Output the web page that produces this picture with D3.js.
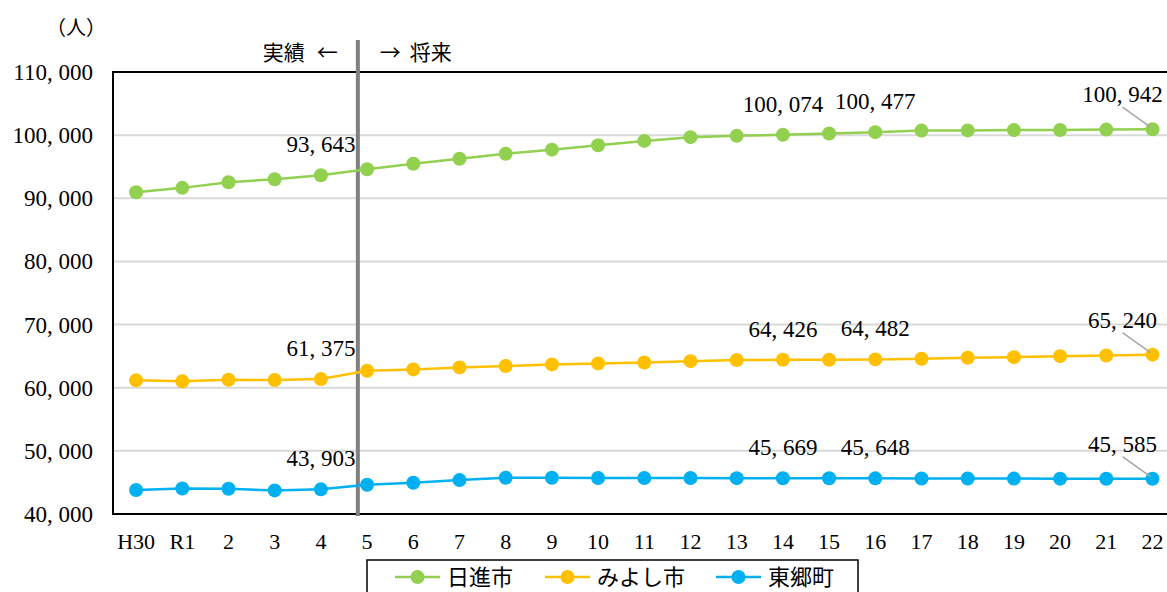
<!DOCTYPE html>
<html>
<head>
<meta charset="utf-8">
<script src="https://cdn.jsdelivr.net/npm/d3@7"></script>
<style>
  body { margin: 0; background: #fff; }
  svg { display: block; }
  .num { font-family: "Liberation Serif", "DejaVu Serif", serif; fill: #000; }
  .jp { font-family: "Noto Sans CJK JP", sans-serif; fill: #000; }
</style>
</head>
<body>
<svg id="chart" width="1167" height="592"></svg>
<script>
// 年度
var categories = ["H30", "R1", "2", "3", "4", "5", "6", "7", "8", "9", "10", "11",
                  "12", "13", "14", "15", "16", "17", "18", "19", "20", "21", "22"];

var nisshin = [90950, 91650, 92540, 93020, 93643, 94600, 95460, 96250, 97050, 97700, 98400, 99090,
               99680, 99890, 100074, 100270, 100477, 100720, 100750, 100800, 100820, 100880, 100942];
var miyoshi = [61170, 61010, 61250, 61220, 61375, 62690, 62900, 63220, 63430, 63690, 63850, 64000,
               64210, 64370, 64426, 64420, 64482, 64580, 64740, 64840, 65000, 65100, 65240];
var togo = [43790, 44050, 43990, 43740, 43903, 44630, 44950, 45370, 45740, 45740, 45700, 45700,
            45690, 45680, 45669, 45660, 45648, 45630, 45620, 45610, 45600, 45590, 45585];

var seriesNames = ["日進市", "みよし市", "東郷町"];
var seriesColors = ["#92D050", "#FFC000", "#00B0F0"];
var labelIdx = [4, 14, 16, 22];
var yTicks = [40000, 50000, 60000, 70000, 80000, 90000, 100000, 110000];

const svg = d3.select("#chart");
const margin = { top: 72, left: 113, bottom: 514 };
const step = 46.2;

const x = d3.scalePoint()
    .domain(categories)
    .range([margin.left, margin.left + categories.length * step])
    .padding(0.5);
const y = d3.scaleLinear()
    .domain([40000, 110000])
    .range([margin.bottom, margin.top]);

const fmt = v => d3.format(",")(v).replace(/,/g, ", ");

// gridlines
svg.append("g").selectAll("line")
    .data(yTicks.slice(1, -1))
    .enter().append("line")
    .attr("x1", margin.left).attr("x2", 1167)
    .attr("y1", d => y(d)).attr("y2", d => y(d))
    .attr("stroke", "#d9d9d9").attr("stroke-width", 2);

// border (top, left, bottom)
svg.append("path")
    .attr("d", `M1167,${y(110000)}H${margin.left}V${y(40000)}H1167`)
    .attr("fill", "none").attr("stroke", "#000").attr("stroke-width", 2);

// y tick labels
svg.append("g").selectAll("text")
    .data(yTicks)
    .enter().append("text")
    .attr("class", "num")
    .attr("x", 93).attr("y", d => y(d))
    .attr("dy", "0.35em")
    .attr("text-anchor", "end")
    .attr("font-size", 23)
    .text(fmt);

// x tick labels
svg.append("g").selectAll("text")
    .data(categories)
    .enter().append("text")
    .attr("class", "num")
    .attr("x", d => x(d)).attr("y", 541)
    .attr("dy", "0.35em")
    .attr("text-anchor", "middle")
    .attr("font-size", 22)
    .text(d => d);

// unit
svg.append("text").attr("class", "jp")
    .attr("x", 76).attr("y", 28).attr("dy", "0.35em")
    .attr("text-anchor", "middle").attr("font-size", 20)
    .text("（人）");

// 実績 / 将来 divider
const divX = x("4") + step * 0.8;
svg.append("line")
    .attr("x1", divX).attr("x2", divX)
    .attr("y1", 40).attr("y2", margin.bottom + 2)
    .attr("stroke", "#808080").attr("stroke-width", 4);
const hdr = [
    { t: "実績", x: divX - 53, a: "end" },
    { t: "←", x: divX - 20, a: "end" },
    { t: "→", x: divX + 22, a: "start" },
    { t: "将来", x: divX + 52, a: "start" }
];
svg.append("g").selectAll("text")
    .data(hdr)
    .enter().append("text")
    .attr("class", "jp")
    .attr("x", d => d.x).attr("y", 53).attr("dy", "0.35em")
    .attr("text-anchor", d => d.a).attr("font-size", 21)
    .text(d => d.t);

const allSeries = [nisshin, miyoshi, togo];
const line = d3.line()
    .x((d, i) => x(categories[i]))
    .y(d => y(d));

allSeries.forEach((vals, si) => {
    const g = svg.append("g");
    g.append("path")
        .attr("d", line(vals))
        .attr("fill", "none")
        .attr("stroke", seriesColors[si])
        .attr("stroke-width", 2.5);
    g.selectAll("circle")
        .data(vals)
        .enter().append("circle")
        .attr("cx", (d, i) => x(categories[i]))
        .attr("cy", d => y(d))
        .attr("r", 7)
        .attr("fill", seriesColors[si]);

    labelIdx.forEach(i => {
        const px = x(categories[i]), py = y(vals[i]);
        const last = i === categories.length - 1;
        const lx = last ? px - 30 : px;
        const ly = last ? py - 35 : py - 31;
        if (last) {
            g.append("line")
                .attr("x1", lx).attr("y1", ly + 13)
                .attr("x2", px - 2).attr("y2", py - 2)
                .attr("stroke", "#a6a6a6").attr("stroke-width", 1.5);
        }
        g.append("text")
            .attr("class", "num")
            .attr("x", lx).attr("y", ly)
            .attr("dy", "0.35em")
            .attr("text-anchor", "middle")
            .attr("font-size", 23)
            .text(fmt(vals[i]));
    });
});

// legend
const legend = svg.append("g");
legend.append("rect")
    .attr("x", 367).attr("y", 560)
    .attr("width", 491).attr("height", 40)
    .attr("fill", "#fff").attr("stroke", "#000").attr("stroke-width", 1.5);
const legendX = [395, 545, 716];
seriesNames.forEach((name, si) => {
    const lx = legendX[si];
    legend.append("line")
        .attr("x1", lx).attr("x2", lx + 45)
        .attr("y1", 577).attr("y2", 577)
        .attr("stroke", seriesColors[si]).attr("stroke-width", 2.5);
    legend.append("circle")
        .attr("cx", lx + 22.5).attr("cy", 577).attr("r", 7)
        .attr("fill", seriesColors[si]);
    legend.append("text").attr("class", "jp")
        .attr("x", lx + 52).attr("y", 577).attr("dy", "0.35em")
        .attr("font-size", 22)
        .text(name);
});
</script>
</body>
</html>
